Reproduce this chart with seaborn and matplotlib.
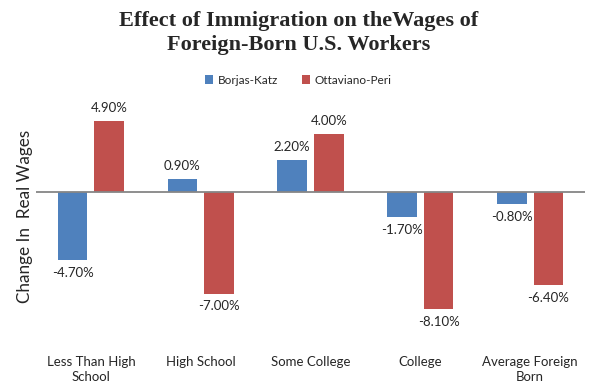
import matplotlib
matplotlib.use('Agg')
import matplotlib.pyplot as plt
import pandas as pd
import seaborn as sns

# data
categories = ['Less Than High\nSchool', 'High School', 'Some College',
              'College', 'Average Foreign\nBorn']
borjas_katz = [-4.7, 0.9, 2.2, -1.7, -0.8]
ottaviano_peri = [4.9, -7.0, 4.0, -8.1, -6.4]
series = ['Borjas-Katz', 'Ottaviano-Peri']
colors = ['#4F81BD', '#C0504D']

df = pd.DataFrame({
    'category': categories * 2,
    'value': borjas_katz + ottaviano_peri,
    'study': [series[0]] * len(categories) + [series[1]] * len(categories),
})

sns.set_theme(style='white')
plt.rcParams['font.family'] = ['Lato', 'DejaVu Sans']

f = plt.figure(figsize=(5.97, 3.89), dpi=100)
ax = f.add_axes([36 / 597, 52 / 389, 549 / 597, 232 / 389])

sns.barplot(data=df, x='category', y='value', hue='study', order=categories,
            hue_order=series, palette=colors, width=0.667, gap=0.19,
            saturation=1, linewidth=0, ax=ax, legend=True)

ax.set_ylim(-10, 6)
ax.set_xlim(-0.5, len(categories) - 0.5)
ax.axhline(0, color='#868686', lw=1.3, zorder=5)
ax.set_yticks([])
ax.set_xlabel('')
ax.set_ylabel('Change In  Real Wages', fontsize=12.3, labelpad=0)
ax.yaxis.set_label_coords(-3 / 549, 0.52)
ax.tick_params(axis='x', length=0, labelsize=9.5, pad=14)
for lbl in ax.get_xticklabels():
    lbl.set_linespacing(1.25)
sns.despine(ax=ax, left=True, bottom=True)

# value labels
for cont in ax.containers:
    vals = cont.datavalues
    ax.bar_label(cont, labels=['%.2f%%' % v for v in vals], padding=5,
                 fontsize=9.5, color='#262626')

leg = ax.legend(loc='center', bbox_to_anchor=(0.5, 1 - 80 / 389),
                bbox_transform=f.transFigure, ncol=2, frameon=False,
                fontsize=8.5, handlelength=0.7, handleheight=0.7,
                columnspacing=2.0, handletextpad=0.4)
for t in leg.get_texts():
    t.set_color('#262626')

f.text(0.5, 1 - 33 / 389,
       'Effect of Immigration on theWages of\nForeign-Born U.S. Workers',
       ha='center', va='center', fontsize=16, fontweight='bold',
       family=['Liberation Serif', 'DejaVu Serif'], linespacing=1.3)

f.savefig('out.png', dpi=100)
